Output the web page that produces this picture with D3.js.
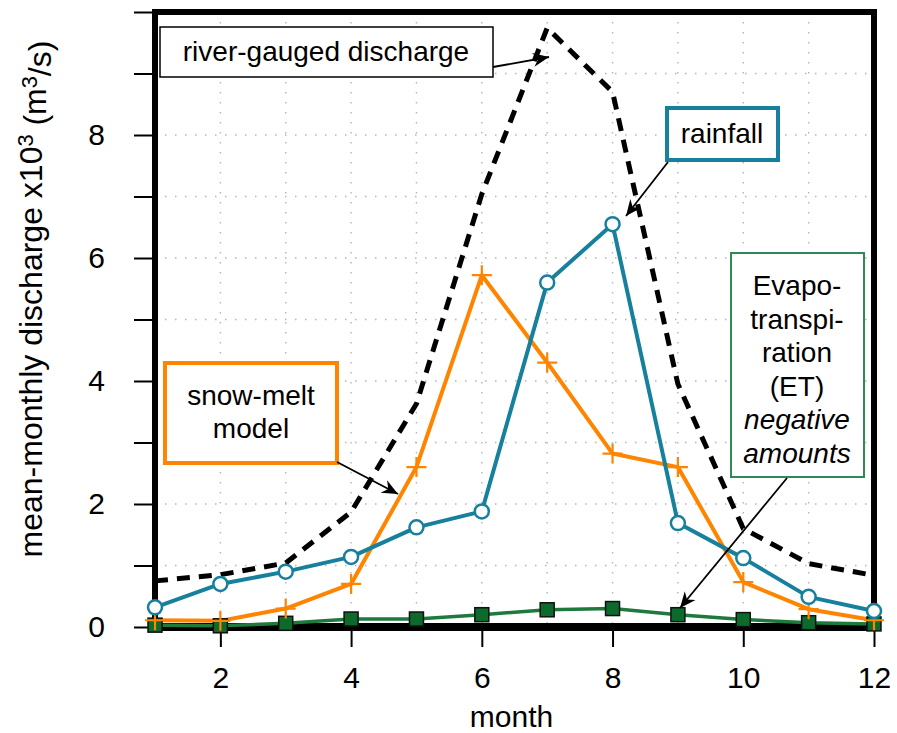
<!DOCTYPE html>
<html><head><meta charset="utf-8">
<script src="https://cdn.jsdelivr.net/npm/d3@7"></script>
<style>
html,body{margin:0;padding:0;background:#fff;}
svg{display:block;font-family:"Liberation Sans",Arial,Helvetica,sans-serif;}
</style></head>
<body>
<svg id="chart" width="897" height="733"></svg>
<script>
// ---- data ----
const months = [1,2,3,4,5,6,7,8,9,10,11,12];
const riverGauged = [0.75,0.85,1.04,1.87,3.63,7.04,9.74,8.70,3.95,1.60,1.03,0.84];
const rainfall    = [0.32,0.70,0.90,1.14,1.62,1.88,5.60,6.55,1.69,1.12,0.49,0.26];
const snowMelt    = [0.11,0.10,0.30,0.70,2.60,5.72,4.30,2.82,2.60,0.73,0.29,0.11];
const evapo       = [0.03,0.02,0.06,0.13,0.13,0.20,0.28,0.30,0.20,0.12,0.07,0.05];
const yTicks = [0,1,2,3,4,5,6,7,8,9,10];
const xTicks = [2,4,6,8,10,12];

const svg = d3.select("#chart");
const L=155, R=874, T=12, B=627;
const x = d3.scaleLinear().domain([1,12]).range([L,R]);
const y = d3.scaleLinear().domain([0,10]).range([B,T]);

const teal="#17809d", orange="#ff8400", green="#1d7a3c", sqFill="#0c6a2c", etBox="#2e8b55";

// grid
const grid = svg.append("g");
grid.selectAll("line.v").data(d3.range(2,12)).enter().append("line")
  .attr("x1",d=>x(d)).attr("x2",d=>x(d)).attr("y1",T).attr("y2",B)
  .attr("stroke","#b5b5b5").attr("stroke-width",1.4).attr("stroke-dasharray","1.5,8.5");
grid.selectAll("line.h").data(d3.range(1,10)).enter().append("line")
  .attr("y1",d=>y(d)).attr("y2",d=>y(d)).attr("x1",L).attr("x2",R)
  .attr("stroke","#b5b5b5").attr("stroke-width",1.4).attr("stroke-dasharray","1.5,8.5");

// axes
const yAxis = svg.append("g").attr("transform",`translate(${L},0)`)
  .call(d3.axisLeft(y).tickValues(yTicks).tickSize(21).tickPadding(29)
    .tickFormat(d=> d%2===0 && d<10 ? d : ""));
const xAxis = svg.append("g").attr("transform",`translate(0,${B})`)
  .call(d3.axisBottom(x).tickValues(xTicks).tickSize(20).tickPadding(20).tickFormat(d=>d));
[yAxis,xAxis].forEach(g=>{
  g.select(".domain").remove();
  g.selectAll(".tick line").attr("stroke","#000").attr("stroke-width",2);
  g.selectAll(".tick text").attr("font-size",30).attr("fill","#000")
   .attr("font-family","'Liberation Sans',Arial,sans-serif");
});

// frame
svg.append("rect").attr("x",L).attr("y",T).attr("width",R-L).attr("height",B-T)
  .attr("fill","none").attr("stroke","#000").attr("stroke-width",6);
svg.append("line").attr("x1",L-3).attr("x2",R+3).attr("y1",B).attr("y2",B)
  .attr("stroke","#000").attr("stroke-width",8);

// lines
const line = d3.line().x((d,i)=>x(months[i])).y(d=>y(d));
svg.append("path").datum(evapo).attr("d",line).attr("fill","none")
  .attr("stroke",green).attr("stroke-width",3.5);
svg.append("path").datum(snowMelt).attr("d",line).attr("fill","none")
  .attr("stroke",orange).attr("stroke-width",4).attr("stroke-linejoin","round");
svg.append("path").datum(rainfall).attr("d",line).attr("fill","none")
  .attr("stroke",teal).attr("stroke-width",4).attr("stroke-linejoin","round");
svg.append("path").datum(riverGauged).attr("d",line).attr("fill","none")
  .attr("stroke","#000").attr("stroke-width",5).attr("stroke-dasharray","13,9");

// markers
svg.selectAll("rect.et").data(evapo).enter().append("rect")
  .attr("x",(d,i)=>x(months[i])-7).attr("y",d=>y(d)-7).attr("width",14).attr("height",14)
  .attr("fill",sqFill).attr("stroke","#111").attr("stroke-width",1.5);
svg.selectAll("path.plus").data(snowMelt).enter().append("path")
  .attr("d",(d,i)=>{const cx=x(months[i]),cy=y(d);return `M${cx-10},${cy}H${cx+10}M${cx},${cy-10}V${cy+10}`;})
  .attr("stroke",orange).attr("stroke-width",2.2);
svg.selectAll("circle.rf").data(rainfall).enter().append("circle")
  .attr("cx",(d,i)=>x(months[i])).attr("cy",d=>y(d)).attr("r",7)
  .attr("fill","#fff").attr("stroke",teal).attr("stroke-width",2.5);

// axis labels
svg.append("text").attr("x",(L+R)/2-3).attr("y",727).attr("text-anchor","middle")
  .attr("font-size",30).text("month");
const yl = svg.append("text").attr("transform","translate(42,299) rotate(-90)")
  .attr("text-anchor","middle").attr("font-size",32);
yl.append("tspan").text("mean-monthly discharge x10");
yl.append("tspan").attr("dy","-0.42em").attr("font-size","0.68em").text("3");
yl.append("tspan").attr("dy","0.42em").text(" (m");
yl.append("tspan").attr("dy","-0.42em").attr("font-size","0.68em").text("3");
yl.append("tspan").attr("dy","0.42em").text("/s)");

// arrow marker
const defs = svg.append("defs");
defs.append("marker").attr("id","arr").attr("viewBox","-16 -8 18 16")
  .attr("refX",0).attr("refY",0).attr("markerWidth",18).attr("markerHeight",16)
  .attr("markerUnits","userSpaceOnUse").attr("orient","auto")
  .append("path").attr("d","M0,0 L-16,-7 L-11,0 L-16,7 Z").attr("fill","#000");

function arrow(x1,y1,x2,y2){
  svg.append("line").attr("x1",x1).attr("y1",y1).attr("x2",x2).attr("y2",y2)
    .attr("stroke","#000").attr("stroke-width",1.8).attr("marker-end","url(#arr)");
}

// annotations
function box(x0,y0,x1,y1,col,w){
  svg.append("rect").attr("x",x0).attr("y",y0).attr("width",x1-x0).attr("height",y1-y0)
    .attr("fill","#fff").attr("stroke",col).attr("stroke-width",w);
}
function label(lines,cx,y0,dy,size,italicFrom){
  lines.forEach((t,i)=>{
    svg.append("text").attr("x",cx).attr("y",y0+i*dy).attr("text-anchor","middle")
      .attr("font-size",size).attr("font-style", italicFrom!==undefined && i>=italicFrom ? "italic":"normal")
      .text(t);
  });
}
box(160,27,493,77,"#000",1.5);
label(["river-gauged discharge"],326,61,0,28);
arrow(493,67,549,57);

box(667,108,778,160,teal,4);
label(["rainfall"],722,143,0,28);
arrow(668,162,626,216);

box(165,363,337,463,orange,4);
label(["snow-melt","model"],251,405,33,28);
arrow(337,462,398,494);

box(731,253,864,477,etBox,2);
label(["Evapo-","transpi-","ration","(ET)","negative","amounts"],797,295,33.5,28,4);
arrow(787,478,680,608);
</script>
</body></html>
